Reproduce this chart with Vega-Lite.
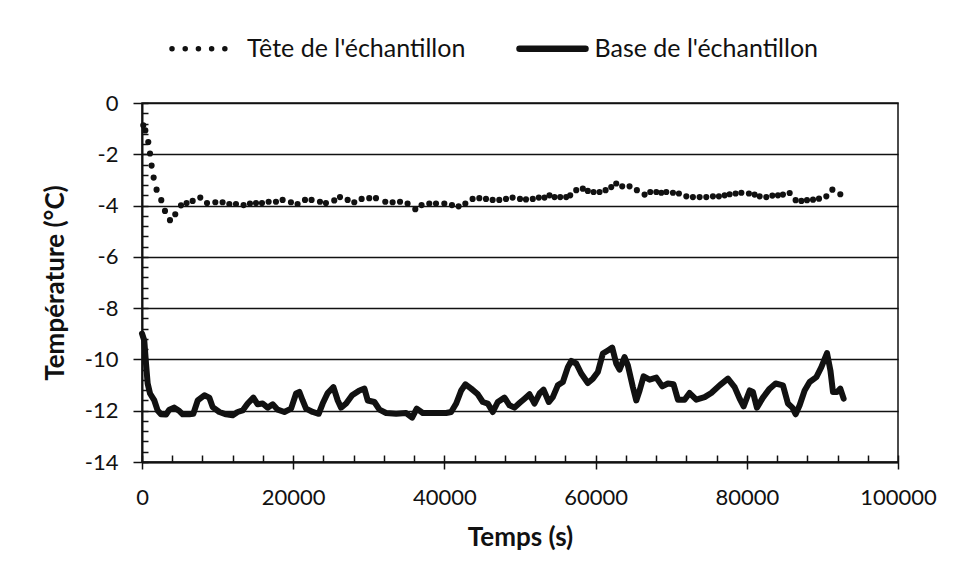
{
  "$schema": "https://vega.github.io/schema/vega-lite/v6.json",
  "width": 756,
  "height": 359,
  "autosize": "none",
  "padding": {"left": 142, "top": 103, "right": 58, "bottom": 117},
  "background": "white",
  "config": {
    "view": {"stroke": "#111", "strokeWidth": 1.5},
    "font": "Lato",
    "axis": {"labelFont": "Lato", "titleFont": "Lato", "labelColor": "#111", "titleColor": "#111", "domainColor": "#111", "tickColor": "#111"},
    "legend": {"labelFont": "Lato", "labelColor": "#111"}
  },
  "datasets": {
    "tete": [
      {"t": 170, "v": -0.87}, {"t": 440, "v": -1.07}, {"t": 830, "v": -1.52}, {"t": 1060, "v": -1.97},
      {"t": 1270, "v": -2.44}, {"t": 1540, "v": -2.91}, {"t": 1930, "v": -3.38}, {"t": 2550, "v": -3.79},
      {"t": 3040, "v": -4.21}, {"t": 3700, "v": -4.57}, {"t": 4400, "v": -4.34}, {"t": 5160, "v": -3.99},
      {"t": 5900, "v": -3.9}, {"t": 6700, "v": -3.82}, {"t": 7710, "v": -3.69}, {"t": 8600, "v": -3.9},
      {"t": 9700, "v": -3.87}, {"t": 10660, "v": -3.87}, {"t": 11550, "v": -3.94}, {"t": 12430, "v": -3.94},
      {"t": 13440, "v": -3.98}, {"t": 14280, "v": -3.92}, {"t": 15080, "v": -3.9}, {"t": 15870, "v": -3.9},
      {"t": 16750, "v": -3.85}, {"t": 17720, "v": -3.85}, {"t": 18600, "v": -3.78}, {"t": 19700, "v": -3.87},
      {"t": 20580, "v": -3.94}, {"t": 21560, "v": -3.78}, {"t": 22430, "v": -3.78}, {"t": 23540, "v": -3.85},
      {"t": 24330, "v": -3.9}, {"t": 25430, "v": -3.8}, {"t": 26190, "v": -3.67}, {"t": 27200, "v": -3.78},
      {"t": 28080, "v": -3.87}, {"t": 29050, "v": -3.74}, {"t": 30060, "v": -3.71}, {"t": 30950, "v": -3.71},
      {"t": 32180, "v": -3.85}, {"t": 33150, "v": -3.87}, {"t": 34130, "v": -3.85}, {"t": 35130, "v": -3.92},
      {"t": 36150, "v": -4.14}, {"t": 36980, "v": -3.98}, {"t": 38000, "v": -3.92}, {"t": 38890, "v": -3.92},
      {"t": 39990, "v": -3.92}, {"t": 41000, "v": -3.98}, {"t": 41880, "v": -4.03}, {"t": 42770, "v": -3.92},
      {"t": 43730, "v": -3.74}, {"t": 44620, "v": -3.71}, {"t": 45500, "v": -3.74}, {"t": 46380, "v": -3.78},
      {"t": 47260, "v": -3.78}, {"t": 48150, "v": -3.74}, {"t": 49020, "v": -3.69}, {"t": 50000, "v": -3.74},
      {"t": 50790, "v": -3.76}, {"t": 51690, "v": -3.74}, {"t": 52490, "v": -3.69}, {"t": 53240, "v": -3.69},
      {"t": 53900, "v": -3.6}, {"t": 54570, "v": -3.67}, {"t": 55320, "v": -3.67}, {"t": 56110, "v": -3.67},
      {"t": 56640, "v": -3.6}, {"t": 57440, "v": -3.4}, {"t": 58310, "v": -3.34}, {"t": 58970, "v": -3.43},
      {"t": 59730, "v": -3.47}, {"t": 60520, "v": -3.47}, {"t": 61320, "v": -3.4}, {"t": 62070, "v": -3.28},
      {"t": 62730, "v": -3.14}, {"t": 63520, "v": -3.25}, {"t": 64490, "v": -3.25}, {"t": 65460, "v": -3.4},
      {"t": 66480, "v": -3.57}, {"t": 67230, "v": -3.47}, {"t": 68030, "v": -3.47}, {"t": 68690, "v": -3.5},
      {"t": 69350, "v": -3.47}, {"t": 70230, "v": -3.5}, {"t": 71020, "v": -3.53}, {"t": 72000, "v": -3.64},
      {"t": 72870, "v": -3.67}, {"t": 73760, "v": -3.67}, {"t": 74640, "v": -3.67}, {"t": 75520, "v": -3.64},
      {"t": 76310, "v": -3.64}, {"t": 77070, "v": -3.6}, {"t": 77730, "v": -3.56}, {"t": 78520, "v": -3.53},
      {"t": 79280, "v": -3.5}, {"t": 80280, "v": -3.53}, {"t": 81030, "v": -3.57}, {"t": 81700, "v": -3.64},
      {"t": 82580, "v": -3.67}, {"t": 83380, "v": -3.61}, {"t": 84120, "v": -3.6}, {"t": 84780, "v": -3.57},
      {"t": 85670, "v": -3.51}, {"t": 86460, "v": -3.79}, {"t": 87220, "v": -3.82}, {"t": 87960, "v": -3.79},
      {"t": 88760, "v": -3.77}, {"t": 89550, "v": -3.73}, {"t": 90520, "v": -3.64}, {"t": 91320, "v": -3.38},
      {"t": 92370, "v": -3.56}
    ],
    "base": [
      {"t": 0, "v": -8.99}, {"t": 300, "v": -9.26}, {"t": 530, "v": -10.16}, {"t": 750, "v": -10.94},
      {"t": 1060, "v": -11.33}, {"t": 1630, "v": -11.6}, {"t": 2070, "v": -11.99}, {"t": 2510, "v": -12.14},
      {"t": 3180, "v": -12.15}, {"t": 3610, "v": -11.96}, {"t": 4280, "v": -11.88}, {"t": 4850, "v": -11.99},
      {"t": 5380, "v": -12.14}, {"t": 6260, "v": -12.14}, {"t": 6790, "v": -12.12}, {"t": 7370, "v": -11.6},
      {"t": 8250, "v": -11.4}, {"t": 8910, "v": -11.49}, {"t": 9350, "v": -11.86}, {"t": 10230, "v": -12.05},
      {"t": 11120, "v": -12.14}, {"t": 12000, "v": -12.18}, {"t": 12650, "v": -12.05}, {"t": 13310, "v": -11.99},
      {"t": 13980, "v": -11.72}, {"t": 14730, "v": -11.49}, {"t": 15300, "v": -11.75}, {"t": 15960, "v": -11.72},
      {"t": 16620, "v": -11.88}, {"t": 17290, "v": -11.75}, {"t": 17950, "v": -11.96}, {"t": 18830, "v": -12.05},
      {"t": 19720, "v": -11.92}, {"t": 20380, "v": -11.33}, {"t": 20820, "v": -11.27}, {"t": 21250, "v": -11.6},
      {"t": 21700, "v": -11.92}, {"t": 22580, "v": -12.05}, {"t": 23370, "v": -12.12}, {"t": 23900, "v": -11.72},
      {"t": 24560, "v": -11.31}, {"t": 25320, "v": -11.08}, {"t": 25890, "v": -11.6}, {"t": 26330, "v": -11.88},
      {"t": 27000, "v": -11.72}, {"t": 27790, "v": -11.4}, {"t": 28760, "v": -11.21}, {"t": 29420, "v": -11.14},
      {"t": 29860, "v": -11.6}, {"t": 30740, "v": -11.66}, {"t": 31410, "v": -11.96}, {"t": 32290, "v": -12.09},
      {"t": 33620, "v": -12.12}, {"t": 34940, "v": -12.09}, {"t": 35730, "v": -12.27}, {"t": 36340, "v": -11.92},
      {"t": 37140, "v": -12.09}, {"t": 38910, "v": -12.09}, {"t": 40230, "v": -12.09}, {"t": 40890, "v": -12.05},
      {"t": 41560, "v": -11.72}, {"t": 42220, "v": -11.21}, {"t": 42790, "v": -10.97}, {"t": 43540, "v": -11.14},
      {"t": 44420, "v": -11.36}, {"t": 45080, "v": -11.66}, {"t": 45740, "v": -11.72}, {"t": 46400, "v": -12.05},
      {"t": 47060, "v": -11.66}, {"t": 47950, "v": -11.49}, {"t": 48610, "v": -11.79}, {"t": 49270, "v": -11.88},
      {"t": 49930, "v": -11.7}, {"t": 50600, "v": -11.53}, {"t": 51260, "v": -11.36}, {"t": 51920, "v": -11.72},
      {"t": 52580, "v": -11.33}, {"t": 53110, "v": -11.18}, {"t": 53810, "v": -11.66}, {"t": 54340, "v": -11.47},
      {"t": 55000, "v": -11.01}, {"t": 55670, "v": -10.88}, {"t": 56330, "v": -10.3}, {"t": 56780, "v": -10.06},
      {"t": 57440, "v": -10.16}, {"t": 58100, "v": -10.55}, {"t": 58970, "v": -10.92}, {"t": 59640, "v": -10.75},
      {"t": 60300, "v": -10.49}, {"t": 60960, "v": -9.77}, {"t": 61620, "v": -9.65}, {"t": 62200, "v": -9.54},
      {"t": 62730, "v": -10.16}, {"t": 63170, "v": -10.4}, {"t": 63830, "v": -9.91}, {"t": 64270, "v": -10.23},
      {"t": 64930, "v": -11.08}, {"t": 65380, "v": -11.6}, {"t": 65820, "v": -11.21}, {"t": 66350, "v": -10.66},
      {"t": 67140, "v": -10.79}, {"t": 68030, "v": -10.71}, {"t": 68820, "v": -11.05}, {"t": 69560, "v": -10.94},
      {"t": 70310, "v": -10.97}, {"t": 70890, "v": -11.57}, {"t": 71770, "v": -11.57}, {"t": 72430, "v": -11.31},
      {"t": 73320, "v": -11.57}, {"t": 74420, "v": -11.47}, {"t": 75300, "v": -11.31}, {"t": 76400, "v": -11.01},
      {"t": 77500, "v": -10.75}, {"t": 78390, "v": -11.08}, {"t": 79050, "v": -11.53}, {"t": 79580, "v": -11.83},
      {"t": 80380, "v": -11.21}, {"t": 80810, "v": -11.27}, {"t": 81340, "v": -11.88}, {"t": 82130, "v": -11.49},
      {"t": 83020, "v": -11.14}, {"t": 83810, "v": -10.94}, {"t": 84780, "v": -11.01}, {"t": 85440, "v": -11.72},
      {"t": 86030, "v": -11.88}, {"t": 86460, "v": -12.14}, {"t": 86990, "v": -11.79}, {"t": 87650, "v": -11.21},
      {"t": 88310, "v": -10.88}, {"t": 89200, "v": -10.69}, {"t": 89860, "v": -10.3}, {"t": 90610, "v": -9.75},
      {"t": 91060, "v": -10.43}, {"t": 91400, "v": -11.27}, {"t": 91930, "v": -11.27}, {"t": 92370, "v": -11.14},
      {"t": 92810, "v": -11.53}
    ]
  },
  "resolve": {"axis": {"x": "independent", "y": "independent"}},
  "layer": [
    {
      "data": {"name": "base"},
      "mark": {"type": "line", "strokeWidth": 6, "strokeJoin": "round", "strokeCap": "round"},
      "encoding": {
        "x": {
          "field": "t", "type": "quantitative",
          "scale": {"domain": [0, 100000], "nice": false, "zero": false},
          "axis": {
            "orient": "bottom",
            "values": [0, 20000, 40000, 60000, 80000, 100000],
            "format": "d", "grid": false, "domainWidth": 2, "tickSize": 7, "tickWidth": 1.5,
            "labelFontSize": 22, "labelBaseline": "alphabetic", "labelPadding": 35, "labelFlush": false,
            "title": "Temps (s)", "titleFontSize": 26, "titleFontWeight": "bold",
            "titleBaseline": "alphabetic", "titleY": 83
          }
        },
        "y": {
          "field": "v", "type": "quantitative",
          "scale": {"domain": [-14, 0], "nice": false, "zero": false},
          "axis": {
            "orient": "left",
            "values": [-14, -12, -10, -8, -6, -4, -2, 0],
            "labelExpr": "toString(datum.value)",
            "grid": true, "gridColor": "#111", "gridWidth": 1.4, "gridOpacity": 1,
            "domainWidth": 2, "tickSize": 9, "tickWidth": 1.5,
            "labelFontSize": 22, "labelPadding": 15, "labelBaseline": "middle", "labelFlush": false,
            "title": "Température (°C)", "titleFontSize": 26, "titleFontWeight": "bold",
            "titleBaseline": "alphabetic", "titleX": -79, "titleAngle": -90
          }
        },
        "color": {
          "datum": "Base de l'échantillon",
          "type": "nominal",
          "scale": {"domain": ["Tête de l'échantillon", "Base de l'échantillon"], "range": ["#111111", "#111111"]},
          "legend": {
            "title": null,
            "orient": "none",
            "direction": "horizontal",
            "legendX": 50.5,
            "legendY": -67,
            "padding": 0,
            "symbolType": "stroke",
            "symbolSize": 4356,
            "symbolStrokeWidth": 5,
            "labelFontSize": 25,
            "labelOffset": 29.5,
            "labelLimit": 400,
            "columnPadding": 40.5,
            "encode": {
              "symbols": {
                "update": {
                  "shape": {"value": "stroke"},
                  "stroke": {"value": "#111111"},
                  "strokeCap": {"value": "round"},
                  "strokeWidth": {"signal": "datum.index === 0 ? 5.5 : 6.5"},
                  "strokeDash": {"signal": "datum.index === 0 ? [0.01, 13.2] : [1000, 0]"}
                }
              }
            }
          }
        }
      }
    },
    {
      "data": {"name": "tete"},
      "mark": {"type": "point", "filled": true, "size": 38, "opacity": 1},
      "encoding": {
        "x": {
          "field": "t", "type": "quantitative",
          "axis": {
            "orient": "bottom",
            "values": [0, 4000, 8000, 12000, 16000, 20000, 24000, 28000, 32000, 36000, 40000, 44000, 48000, 52000, 56000, 60000, 64000, 68000, 72000, 76000, 80000, 84000, 88000, 92000, 96000, 100000],
            "labels": false, "domain": false, "grid": false, "title": null,
            "tickSize": -7, "tickWidth": 1.5
          }
        },
        "y": {
          "field": "v", "type": "quantitative",
          "axis": {
            "orient": "left",
            "values": [-14, -13.6, -13.2, -12.8, -12.4, -12, -11.6, -11.2, -10.8, -10.4, -10, -9.6, -9.2, -8.8, -8.4, -8, -7.6, -7.2, -6.8, -6.4, -6, -5.6, -5.2, -4.8, -4.4, -4, -3.6, -3.2, -2.8, -2.4, -2, -1.6, -1.2, -0.8, -0.4, 0],
            "labels": false, "domain": false, "grid": false, "title": null,
            "tickSize": -6, "tickWidth": 1.5
          }
        },
        "color": {"datum": "Tête de l'échantillon", "type": "nominal"}
      }
    }
  ]
}
